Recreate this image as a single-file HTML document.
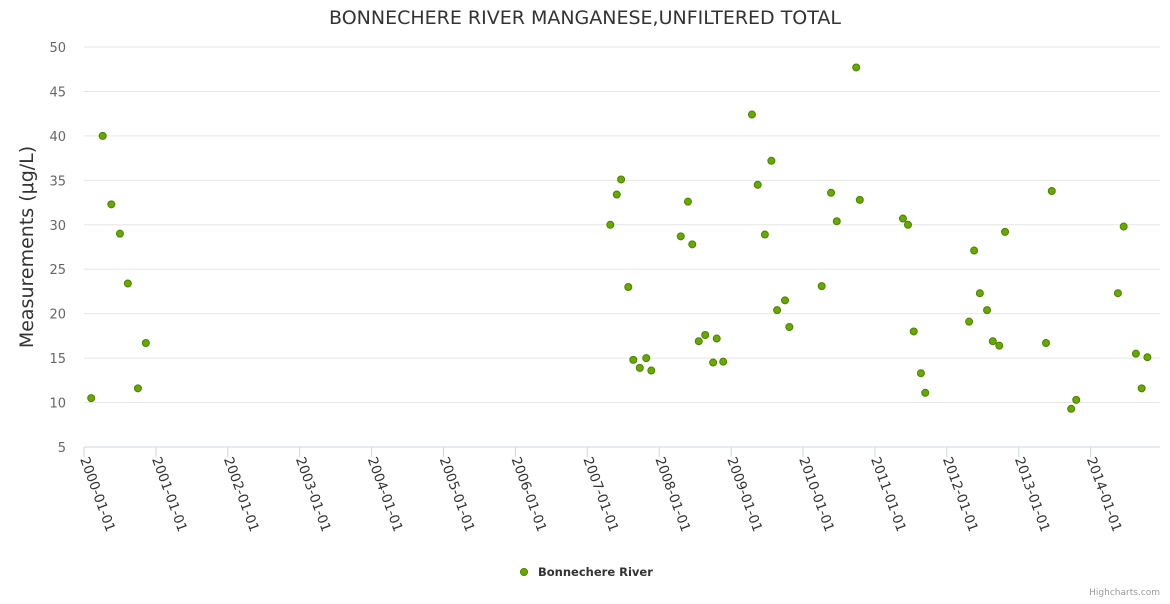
<!DOCTYPE html>
<html><head><meta charset="utf-8"><style>
body{margin:0;background:#fff;font-family:"DejaVu Sans","Liberation Sans",sans-serif}
</style></head><body>
<svg id="chart" width="1170" height="600" xmlns="http://www.w3.org/2000/svg" font-family="DejaVu Sans, Liberation Sans, sans-serif">
<text x="585" y="24" text-anchor="middle" font-size="19" fill="#333">BONNECHERE RIVER MANGANESE,UNFILTERED TOTAL</text>
<text transform="translate(33,247) rotate(-90)" text-anchor="middle" font-size="19" fill="#333">Measurements (μg/L)</text>
<g id="grid"></g><g id="xaxis"></g><g id="pts"></g>
<g>
<circle cx="524" cy="572" r="3.5" fill="#66aa00" stroke="#4d8000" stroke-width="1"/>
<text x="538" y="576" font-size="11.5" font-weight="bold" fill="#333">Bonnechere River</text>
</g>
<text x="1160" y="595" text-anchor="end" font-size="9" fill="#999">Highcharts.com</text>
</svg>
<script>
const yTicks=[5,10,15,20,25,30,35,40,45,50];
const xYears=[2000,2001,2002,2003,2004,2005,2006,2007,2008,2009,2010,2011,2012,2013,2014];
const dates=[2000.10,2000.26,2000.38,2000.50,2000.61,2000.75,2000.86,
2007.32,2007.41,2007.47,2007.57,2007.64,2007.73,2007.82,2007.89,
2008.30,2008.40,2008.46,2008.55,2008.64,2008.75,2008.80,2008.89,
2009.29,2009.37,2009.47,2009.56,2009.64,2009.75,2009.81,
2010.26,2010.39,2010.47,2010.74,2010.79,
2011.39,2011.46,2011.54,2011.64,2011.70,
2012.31,2012.38,2012.46,2012.56,2012.64,2012.73,2012.81,
2013.38,2013.46,2013.73,2013.80,
2014.38,2014.46,2014.63,2014.71,2014.79];
const values=[10.5,40,32.3,29,23.4,11.6,16.7,
30,33.4,35.1,23,14.8,13.9,15,13.6,
28.7,32.6,27.8,16.9,17.6,14.5,17.2,14.6,
42.4,34.5,28.9,37.2,20.4,21.5,18.5,
23.1,33.6,30.4,47.7,32.8,
30.7,30,18,13.3,11.1,
19.1,27.1,22.3,20.4,16.9,16.4,29.2,
16.7,33.8,9.3,10.3,
22.3,29.8,15.5,11.6,15.1];
const NS="http://www.w3.org/2000/svg";
const L=84,R=1160,T=47,B=447;
const xs=v=>L+(v-2000)*71.9;
const ys=v=>B-(v-5)/45*(B-T);
function mk(tag,at,par){const e=document.createElementNS(NS,tag);for(const k in at)e.setAttribute(k,at[k]);document.getElementById(par).appendChild(e);return e;}
yTicks.forEach(t=>{
 const l=mk('line',{x1:L,x2:R,y1:ys(t),y2:ys(t),stroke:t===5?'#ccd6eb':'#e6e6e6','stroke-width':1},'grid');
 
 
 const tx=mk('text',{x:L-18,y:ys(t)+5,'text-anchor':'end','font-size':13,fill:'#666'},'grid');
 tx.textContent=t;
 
 
});
xYears.forEach(y=>{
 const x=xs(y);
 const l=mk('line',{x1:x,x2:x,y1:B,y2:B+10,stroke:'#ccd6eb'},'xaxis');
 
 
 const tx=mk('text',{x:0,y:0,transform:`translate(${x-4},${B+12}) rotate(70)`,'font-size':13.5,fill:'#333'},'xaxis');
 tx.textContent=y+'-01-01';
 
 
});
dates.forEach((d,i)=>{
 const c=mk('circle',{cx:xs(d),cy:ys(values[i]),r:3.5,fill:'#66aa00',stroke:'#4d8000','stroke-width':1},'pts');
 
 
});
</script>
</body></html>
